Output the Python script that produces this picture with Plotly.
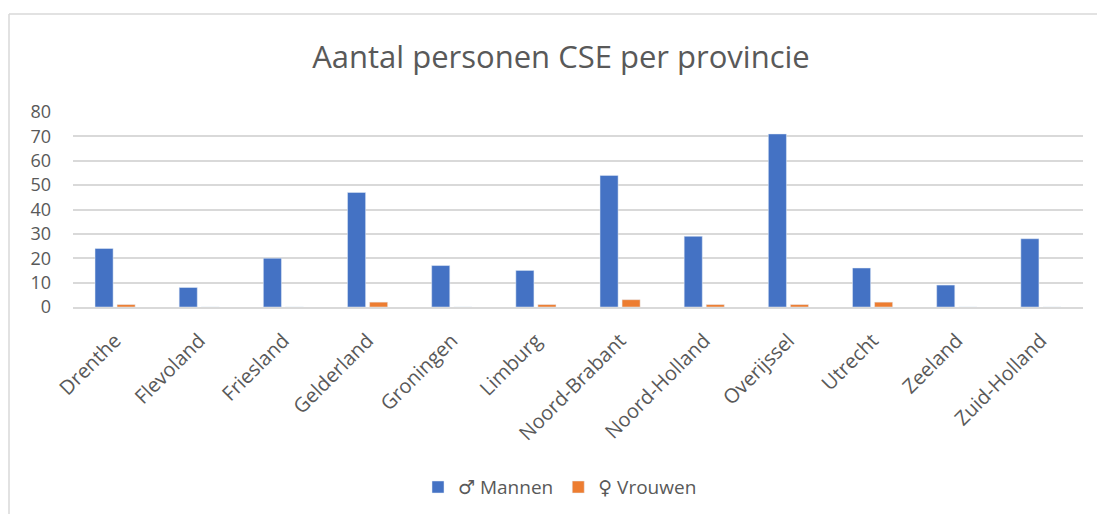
import plotly.graph_objects as go

provincies = ["Drenthe", "Flevoland", "Friesland", "Gelderland", "Groningen", "Limburg",
              "Noord-Brabant", "Noord-Holland", "Overijssel", "Utrecht", "Zeeland", "Zuid-Holland"]
mannen = [24, 8, 20, 47, 17, 15, 54, 29, 71, 16, 9, 28]
vrouwen = [1, 0, 0, 2, 0, 1, 3, 1, 1, 2, 0, 0]
y_ticks = [0, 10, 20, 30, 40, 50, 60, 70, 80]

FONT = "Open Sans, Noto Sans, DejaVu Sans, sans-serif"
GREY = "#595959"

fig = go.Figure()
fig.add_trace(go.Bar(x=provincies, y=mannen, name="\u2642 Mannen", marker_color="#4472C4"))
fig.add_trace(go.Bar(x=provincies, y=vrouwen, name="\u2640 Vrouwen", marker_color="#ED7D31"))

L, R, T, B = 73, 14, 112, 209
W, H = 1097, 518
pw, ph = W - L - R, H - T - B

def px(xp):
    return (xp - L) / pw

def py(yp):
    return (H - B - yp) / ph

fig.update_layout(
    width=W, height=H,
    margin=dict(l=L, r=R, t=T, b=B),
    paper_bgcolor="white", plot_bgcolor="white",
    barmode="group", bargap=0.476, bargroupgap=0.18,
    font=dict(family=FONT, color=GREY, size=15),
    title=dict(text="Aantal personen CSE per provincie", x=px(561), xref="paper", xanchor="center",
               y=1 - 57 / H, yanchor="middle",
               font=dict(family=FONT, size=31, color=GREY)),
    xaxis=dict(tickangle=-45, showgrid=False, showline=True, linecolor="#d9d9d9", linewidth=2,
               ticks="", tickfont=dict(size=20, color=GREY), range=[-0.5, 11.5],
               ticklabelstandoff=12),
    yaxis=dict(range=[0, 80], tickvals=y_ticks, showgrid=True, gridcolor="#d9d9d9", gridwidth=1.5,
               zeroline=False, ticks="", tickfont=dict(size=18, color=GREY), ticklabelstandoff=21),
    legend=dict(orientation="h", x=px(560), xanchor="center", y=py(491), yanchor="middle",
                font=dict(size=19, color=GREY), itemwidth=30, traceorder="normal"),
    showlegend=True,
    shapes=[
        dict(type="line", xref="paper", yref="paper", x0=px(9), x1=px(W), y0=py(13), y1=py(13),
             line=dict(color="#d9d9d9", width=1.5)),
        dict(type="line", xref="paper", yref="paper", x0=px(9), x1=px(9), y0=py(13), y1=py(H),
             line=dict(color="#d9d9d9", width=1.5)),
    ],
)

fig.write_html("out.html", config={"displayModeBar": False},
               post_script="document.body.style.margin='0';document.body.style.overflow='hidden';")
